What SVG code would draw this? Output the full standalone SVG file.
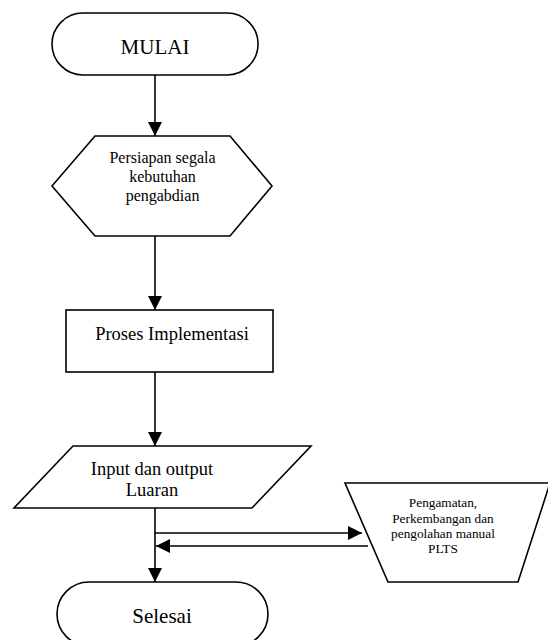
<svg xmlns="http://www.w3.org/2000/svg" width="548" height="640" viewBox="0 0 548 640">
<defs>
<style>
.s{fill:#fff;stroke:#000;stroke-width:1.6}
.t{font-family:"Liberation Serif","Times New Roman",serif;fill:#000;text-anchor:middle}
.c{fill:none;stroke:#000;stroke-width:1.6}
</style>
<marker id="ah" viewBox="0 0 14 14" markerWidth="14" markerHeight="14" refX="14" refY="7" orient="auto" markerUnits="userSpaceOnUse">
<path d="M0,0 L14,7 L0,14 Z" fill="#000"/>
</marker>
</defs>
<rect width="548" height="640" fill="#fff"/>
<g id="connectors">
<line class="c" x1="155" y1="75" x2="155" y2="136" marker-end="url(#ah)"/>
<line class="c" x1="155" y1="236" x2="155" y2="310" marker-end="url(#ah)"/>
<line class="c" x1="155" y1="372" x2="155" y2="446" marker-end="url(#ah)"/>
<line class="c" x1="155" y1="508" x2="155" y2="582" marker-end="url(#ah)"/>
<line class="c" x1="155" y1="533" x2="362" y2="533" marker-end="url(#ah)"/>
<line class="c" x1="368" y1="546" x2="156" y2="546" marker-end="url(#ah)"/>
</g>
<g id="mulai">
<rect class="s" x="52" y="13" width="206" height="62" rx="31" ry="31"/>
<text class="t" x="155" y="54" font-size="21">MULAI</text>
</g>
<g id="persiapan">
<polygon class="s" points="95,136 230,136 272,186 230,236 95,236 52,186"/>
<text class="t" x="162.5" y="163" font-size="16">Persiapan segala</text>
<text class="t" x="162.5" y="182" font-size="16">kebutuhan</text>
<text class="t" x="162.5" y="201" font-size="16">pengabdian</text>
</g>
<g id="proses">
<rect class="s" x="66" y="310" width="207" height="62"/>
<text class="t" x="172" y="340" font-size="18.5">Proses Implementasi</text>
</g>
<g id="input">
<polygon class="s" points="73,446 311,446 252,508 14,508"/>
<text class="t" x="152" y="475" font-size="18.5">Input dan output</text>
<text class="t" x="152" y="496" font-size="18.5">Luaran</text>
</g>
<g id="pengamatan">
<polygon class="s" points="345,483 550,483 518,582 388,582"/>
<text class="t" x="443" y="507" font-size="13.3">Pengamatan,</text>
<text class="t" x="443" y="523" font-size="13.3">Perkembangan dan</text>
<text class="t" x="443" y="538" font-size="13.3">pengolahan manual</text>
<text class="t" x="443" y="553" font-size="13.3">PLTS</text>
</g>
<g id="selesai">
<rect class="s" x="57" y="582" width="211" height="64" rx="32" ry="32"/>
<text class="t" x="162" y="623" font-size="21">Selesai</text>
</g>
</svg>
